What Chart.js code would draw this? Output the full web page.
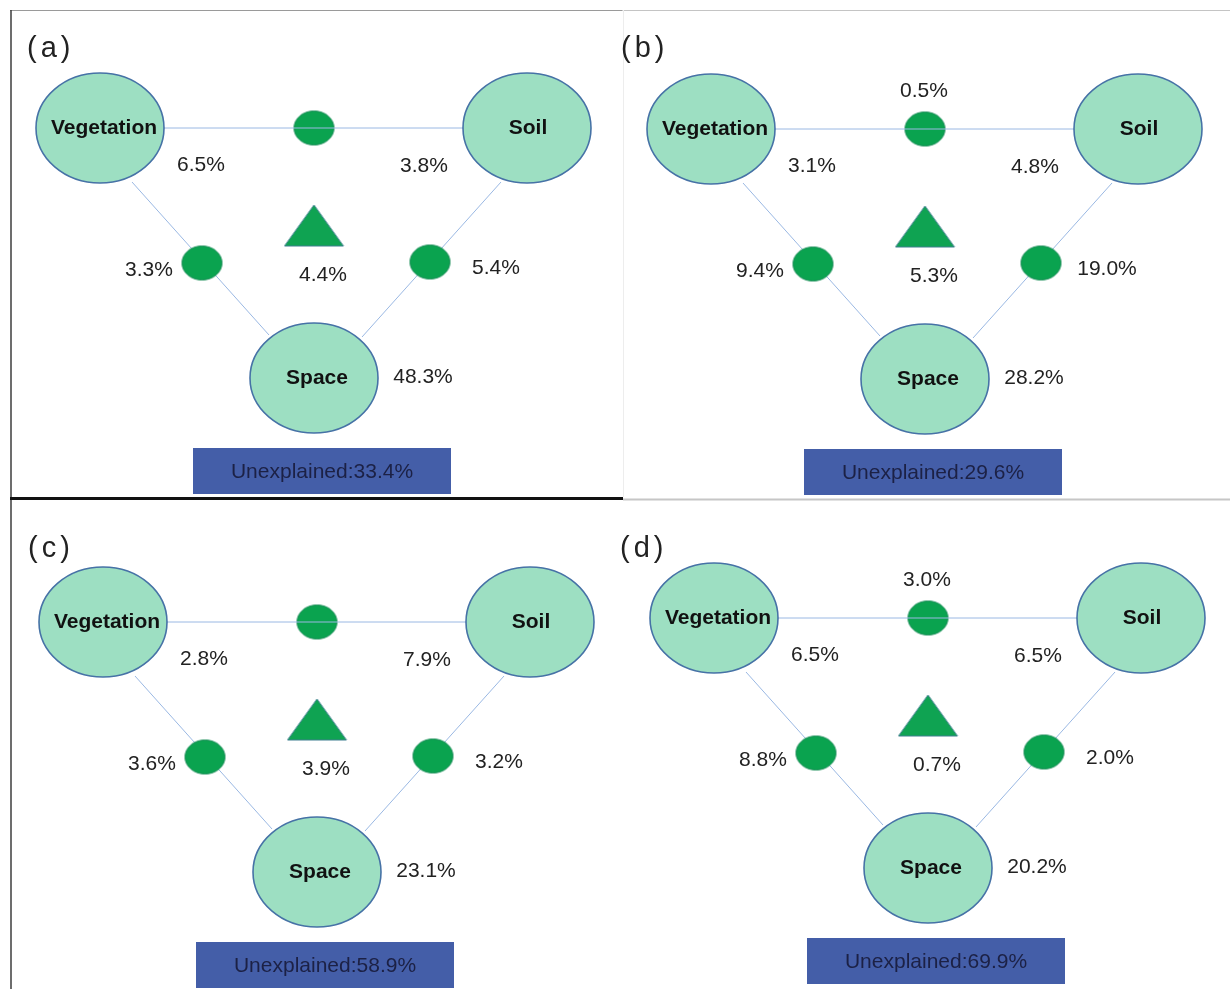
<!DOCTYPE html>
<html>
<head>
<meta charset="utf-8">
<script src="https://cdn.jsdelivr.net/npm/chart.js@4.4.1/dist/chart.umd.min.js"></script>
<style>
html, body { margin: 0; padding: 0; background: #fff; }
canvas { display: block; }
</style>
</head>
<body>
<canvas id="variancePartition" width="1230" height="989"></canvas>
<script>
// explained variance (%) per panel
const panelTags = ['(a)', '(b)', '(c)', '(d)'];
const factorNames = ['Vegetation', 'Soil', 'Space'];
const vegetationOnly = [6.5, 3.1, 2.8, 6.5];
const soilOnly = [3.8, 4.8, 7.9, 6.5];
const spaceOnly = [48.3, 28.2, 23.1, 20.2];
const vegetationSoil = [null, 0.5, null, 3.0];
const vegetationSpace = [3.3, 9.4, 3.6, 8.8];
const soilSpace = [5.4, 19.0, 3.2, 2.0];
const allThree = [4.4, 5.3, 3.9, 0.7];
const unexplained = [33.4, 29.6, 58.9, 69.9];

// diagram layout, in page units of panel (a); other panels are shifted
const panelShift = [[0, 0], [611, 1], [3, 494], [614, 490]];
const tagSpots = [[27, 48.5], [621, 48.5], [28, 549], [620, 549]];
const nodeSpot = { Vegetation: [100, 128], Soil: [527, 128], Space: [314, 378] };
const nameSpot = { Vegetation: [104, 128], Soil: [528, 128], Space: [317, 378] };
const pairSpot = [[314, 128], [202, 263], [430, 262]];   // veg-soil, veg-space, soil-space
const trioSpot = [314, 225.5];
const links = [
  [[100, 128], [527, 128]],
  [[132, 182], [269, 335]],
  [[501, 182], [362, 337]]
];
const boxRect = [193, 448, 451, 494];

function ellipseSprite(rx, ry, fill, stroke, lw) {
  const c = document.createElement('canvas');
  c.width = Math.ceil(2 * rx + lw + 2);
  c.height = Math.ceil(2 * ry + lw + 2);
  const g = c.getContext('2d');
  g.beginPath();
  g.ellipse(c.width / 2, c.height / 2, rx, ry, 0, 0, Math.PI * 2);
  g.fillStyle = fill;
  g.fill();
  g.lineWidth = lw;
  g.strokeStyle = stroke;
  g.stroke();
  return c;
}

function triangleSprite(w, h, fill, stroke) {
  const c = document.createElement('canvas');
  c.width = w + 2;
  c.height = h + 2;
  const g = c.getContext('2d');
  g.beginPath();
  g.moveTo(1 + w / 2, 1);
  g.lineTo(1 + w, 1 + h);
  g.lineTo(1, 1 + h);
  g.closePath();
  g.fillStyle = fill;
  g.fill();
  g.lineWidth = 1;
  g.strokeStyle = stroke;
  g.stroke();
  return c;
}

const bigSprite = ellipseSprite(64, 55, '#9ddfc2', '#4672a6', 1.6);
const smallSprite = ellipseSprite(20, 17, '#0aa34f', '#178a55', 1);
const trioSprite = triangleSprite(59, 41, '#0fa352', '#3e7f8f');

const at = (p, k) => ({ x: p[0] + panelShift[k][0], y: p[1] + panelShift[k][1] });
const panelIdx = panelTags.map((t, k) => k);

const datasets = [];
panelIdx.forEach(k => {
  links.forEach((seg, j) => {
    datasets.push({
      data: [at(seg[0], k), at(seg[1], k)],
      showLine: true,
      borderColor: '#9ab8e3',
      borderWidth: 1,
      pointRadius: 0,
      order: j === 0 ? 3 : 5
    });
  });
});
datasets.push({
  label: 'factors',
  data: panelIdx.flatMap(k => factorNames.map(n => at(nodeSpot[n], k))),
  pointStyle: bigSprite,
  pointRadius: 1,
  order: 2
});
datasets.push({
  label: 'pairs',
  data: panelIdx.flatMap(k => pairSpot.map(p => at(p, k))),
  pointStyle: smallSprite,
  pointRadius: 1,
  order: 4
});
datasets.push({
  label: 'shared',
  data: panelIdx.map(k => at(trioSpot, k)),
  pointStyle: trioSprite,
  pointRadius: 1,
  order: 1
});

const pct = v => v.toFixed(1) + '%';

const annotate = {
  id: 'annotate',
  beforeDatasetsDraw(chart) {
    const ctx = chart.ctx;
    const X = v => chart.scales.x.getPixelForValue(v);
    const Y = v => chart.scales.y.getPixelForValue(v);
    const rule = (x1, y1, x2, y2, color, w) => {
      ctx.beginPath();
      ctx.moveTo(X(x1), Y(y1));
      ctx.lineTo(X(x2), Y(y2));
      ctx.strokeStyle = color;
      ctx.lineWidth = w;
      ctx.stroke();
    };
    ctx.save();
    rule(622, 10.5, 1230, 10.5, '#c4c4c4', 1);
    rule(10, 10.5, 622, 10.5, '#9a9a9a', 1);
    rule(623.5, 10, 623.5, 497, '#ededed', 1);
    rule(11, 10, 11, 989, '#3c3c3c', 1.5);
    rule(623, 499.5, 1230, 499.5, '#c6c6c6', 2);
    rule(10, 498.5, 623, 498.5, '#111111', 3);
    panelIdx.forEach(k => {
      const a = at([boxRect[0], boxRect[1]], k);
      const b = at([boxRect[2], boxRect[3]], k);
      ctx.fillStyle = '#445ea8';
      ctx.fillRect(X(a.x), Y(a.y), X(b.x) - X(a.x), Y(b.y) - Y(a.y));
    });
    ctx.restore();
  },
  afterDatasetsDraw(chart) {
    const ctx = chart.ctx;
    const X = v => chart.scales.x.getPixelForValue(v);
    const Y = v => chart.scales.y.getPixelForValue(v);
    const write = (txt, p, k, font, color, align) => {
      const q = at(p, k);
      ctx.font = font;
      ctx.fillStyle = color;
      ctx.textAlign = align || 'center';
      ctx.textBaseline = 'middle';
      ctx.fillText(txt, X(q.x), Y(q.y));
    };
    const plain = '21px "Liberation Sans", Arial, sans-serif';
    const bold = 'bold 21px "Liberation Sans", Arial, sans-serif';
    ctx.save();
    panelIdx.forEach(k => {
      ctx.letterSpacing = '4px';
      ctx.font = '29px "Liberation Sans", Arial, sans-serif';
      ctx.fillStyle = '#222';
      ctx.textAlign = 'left';
      ctx.textBaseline = 'middle';
      ctx.fillText(panelTags[k], X(tagSpots[k][0]), Y(tagSpots[k][1]));
      ctx.letterSpacing = '0px';
      factorNames.forEach(n => write(n, nameSpot[n], k, bold, '#111', 'center'));
      write(pct(vegetationOnly[k]), [201, 165], k, plain, '#222');
      write(pct(soilOnly[k]), [424, 166], k, plain, '#222');
      write(pct(spaceOnly[k]), [423, 377], k, plain, '#222');
      if (vegetationSoil[k] !== null) write(pct(vegetationSoil[k]), [313, 90], k, plain, '#222');
      write(pct(vegetationSpace[k]), [149, 270], k, plain, '#222');
      write(pct(soilSpace[k]), [496, 268], k, plain, '#222');
      write(pct(allThree[k]), [323, 275], k, plain, '#222');
      write('Unexplained:' + pct(unexplained[k]), [322, 472], k, plain, '#1c2145');
    });
    ctx.restore();
  }
};

const chart_variancePartition = new Chart(document.getElementById('variancePartition'), {
  type: 'scatter',
  data: { datasets: datasets },
  options: {
    responsive: false,
    animation: false,
    events: [],
    layout: { padding: 0, autoPadding: false },
    plugins: {
      legend: { display: false },
      tooltip: { enabled: false }
    },
    scales: {
      x: { type: 'linear', min: 0, max: 1230, display: false },
      y: { type: 'linear', min: 0, max: 989, reverse: true, display: false }
    }
  },
  plugins: [annotate]
});
</script>
</body>
</html>
